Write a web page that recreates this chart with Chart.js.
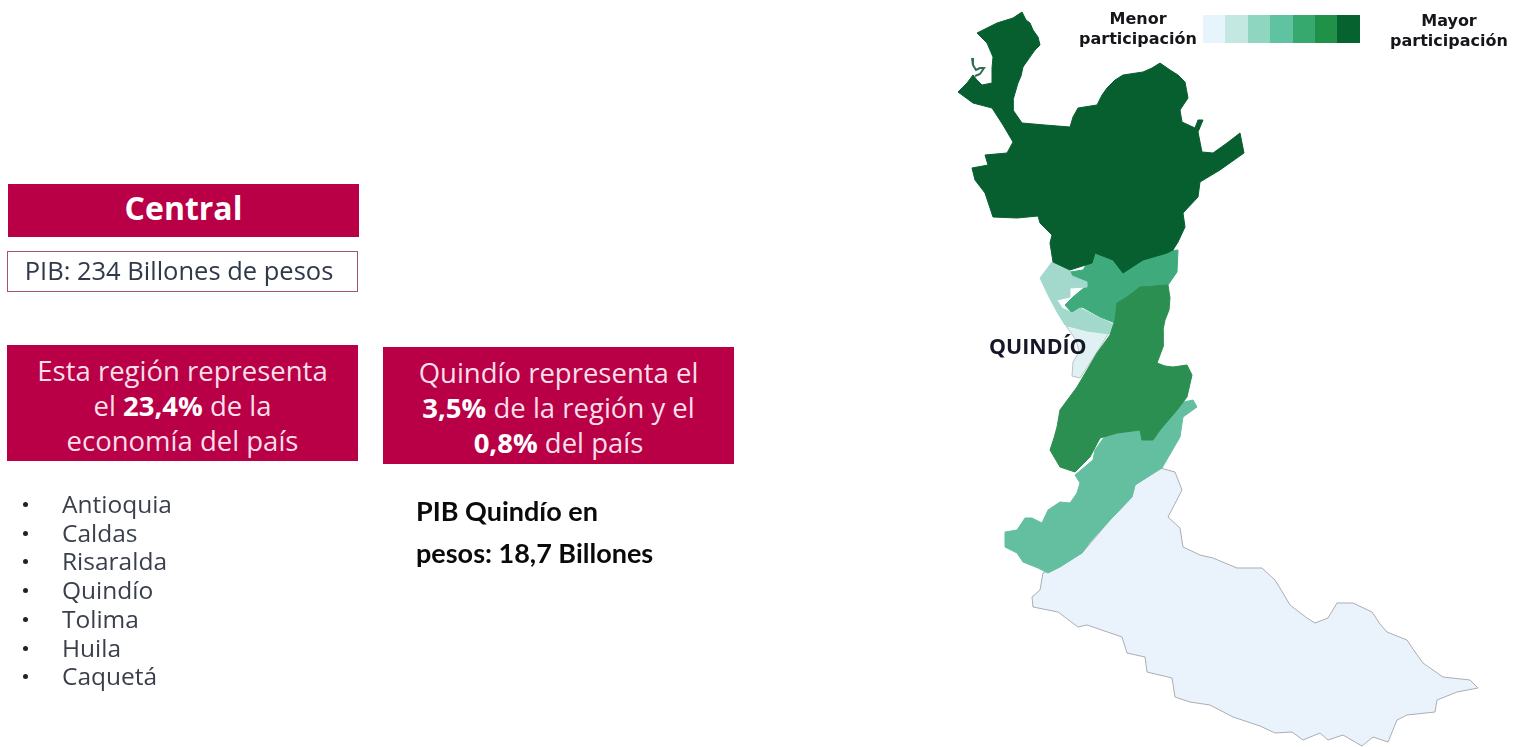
<!DOCTYPE html>
<html lang="es">
<head>
<meta charset="utf-8">
<title>Región Central</title>
<script src="https://cdn.jsdelivr.net/npm/chart.js@4"></script>
<style>
    html, body { margin: 0; padding: 0; background: #fff; }
    #page { position: relative; width: 1526px; height: 747px; overflow: hidden; font-family: "Open Sans", sans-serif; }
    #mapWrap { position: absolute; left: 0; top: 0; width: 1526px; height: 747px; }
    .box { position: absolute; box-sizing: border-box; text-align: center; }
    .panel { background: #b90046; color: #f9dfe8; font-size: 27.5px; line-height: 35px; padding-top: 8px; white-space: nowrap; }
    .panel b { color: #fff; }
    #title { left: 8px; top: 184px; width: 351px; height: 53px; background: #b90046; color: #fff; font-weight: 700; font-size: 32px; line-height: 47px; }
    #pib { left: 7px; top: 251px; width: 351px; height: 41px; padding-right: 7px; border: 1.5px solid #a5527a; color: #30384a; font-size: 25.5px; line-height: 36px; white-space: nowrap; }
    #regionPanel { left: 7px; top: 345px; width: 351px; height: 116px; }
    #quindioPanel { left: 383px; top: 347px; width: 351px; height: 117px; }
    #pibQuindio { position: absolute; left: 416px; top: 490px; font-family: Lato, sans-serif; font-weight: 700; font-size: 27px; line-height: 42px; color: #0a0a0a; white-space: nowrap; }
    #deptList { position: absolute; left: 0; top: 490px; margin: 0; padding: 0; list-style: none; font-size: 24.5px; line-height: 28.7px; color: #3a3f4c; }
    #deptList li { position: relative; padding-left: 62px; }
    #deptList li::before { content: ""; position: absolute; left: 23px; top: 12px; width: 5px; height: 5px; border-radius: 50%; background: #222; }
    #quindioLabel { position: absolute; left: 989px; top: 333px; font-weight: 700; font-size: 21.4px; line-height: 26px; color: #16182a; white-space: nowrap; }
    #legendBar { position: absolute; left: 1203px; top: 15px; display: flex; height: 28px; }
    #legendBar span { display: block; width: 22.4px; height: 28px; }
    .legendText { position: absolute; font-family: "DejaVu Sans", sans-serif; font-weight: 700; font-size: 16px; line-height: 20px; text-align: center; color: #15151a; }
</style>
</head>
<body>
<div id="page">
    <div id="mapWrap"><canvas id="mapChart"></canvas></div>
    <div class="box" id="title"></div>
    <div class="box" id="pib"></div>
    <div class="box panel" id="regionPanel">Esta región representa<br>el <b>23,4%</b> de la<br>economía del país</div>
    <div class="box panel" id="quindioPanel">Quindío representa el<br><b>3,5%</b> de la región y el<br><b>0,8%</b> del país</div>
    <ul id="deptList"></ul>
    <div id="pibQuindio">PIB Quindío en<br>pesos: 18,7 Billones</div>
    <div id="quindioLabel">QUINDÍO</div>
    <div class="legendText" style="left:1058px;top:9px;width:160px">Menor<br>participación</div>
    <div id="legendBar"></div>
    <div class="legendText" style="left:1369px;top:11px;width:160px">Mayor<br>participación</div>
</div>

<script>
const regionName = 'Central';
const regionPib = 'PIB: 234 Billones de pesos';
const departments = ['Antioquia', 'Caldas', 'Risaralda', 'Quindío', 'Tolima', 'Huila', 'Caquetá'];
const legendColors = ['#e8f4fb', '#c3e8e2', '#8fd6c0', '#5fc2a1', '#36a96e', '#1f9148', '#06632f'];

// Department outlines, [x, y] in picture units
const antioquia = [[1022,12],[1026,20],[1030,23],[1033,30],[1038,37],[1040,45],[1035,50],[1030,57],[1023,67],[1021,76],[1018,83],[1013,100],[1013,110],[1022,123],[1045,125],[1070,127],[1073,117],[1078,108],[1097,105],[1102,95],[1107,88],[1115,80],[1123,75],[1143,72],[1152,68],[1160,63],[1170,70],[1178,75],[1185,82],[1188,98],[1180,110],[1182,122],[1195,128],[1198,120],[1203,120],[1198,132],[1202,152],[1213,153],[1227,143],[1240,133],[1244,153],[1220,170],[1200,182],[1198,197],[1183,213],[1185,227],[1178,242],[1173,250],[1167,253],[1143,260],[1123,273],[1113,260],[1095,253],[1092,263],[1070,270],[1053,262],[1050,243],[1052,235],[1040,223],[1038,216],[1017,218],[993,217],[988,202],[985,193],[975,180],[972,168],[988,165],[985,155],[1007,153],[1013,142],[1003,125],[992,108],[973,103],[958,92],[967,83],[973,75],[977,80],[982,85],[992,83],[992,68],[993,57],[987,43],[977,33],[997,23],[1013,18]];
const antioquiaIslet = [[972,58],[973,65],[976,70],[980,68],[984,68],[980,74],[975,76]];
const caldas = [[1178,250],[1177,272],[1168,285],[1147,286],[1133,295],[1118,302],[1115,323],[1100,317],[1082,307],[1072,313],[1065,305],[1073,297],[1085,287],[1087,283],[1073,278],[1070,272],[1083,270],[1095,250],[1113,255],[1123,270],[1147,253]];
const risaralda = [[1052,262],[1040,278],[1048,295],[1057,312],[1065,325],[1087,331],[1110,334],[1115,325],[1100,318],[1080,308],[1072,313],[1062,308],[1057,300],[1070,297],[1070,288],[1087,287],[1087,282],[1072,276],[1068,268]];
const quindio = [[1066,326],[1110,331],[1097,352],[1080,378],[1072,376],[1073,362],[1079,352],[1076,340]];
const tolima = [[1168,285],[1170,298],[1169,310],[1165,320],[1163,330],[1163,347],[1157,363],[1165,366],[1173,367],[1187,365],[1192,375],[1187,397],[1177,410],[1160,430],[1153,440],[1142,440],[1140,430],[1117,433],[1100,438],[1090,457],[1075,472],[1060,467],[1050,450],[1054,438],[1057,427],[1060,410],[1077,387],[1097,353],[1110,335],[1115,320],[1117,303],[1127,297],[1140,287]];
const huila = [[1193,400],[1197,407],[1183,417],[1180,437],[1162,468],[1135,485],[1132,497],[1110,520],[1090,542],[1082,553],[1060,567],[1048,573],[1038,568],[1023,562],[1017,553],[1005,547],[1005,532],[1017,530],[1025,518],[1032,518],[1042,523],[1048,510],[1060,502],[1070,503],[1077,493],[1080,483],[1075,475],[1093,460],[1095,450],[1105,436],[1140,420],[1170,405]];
const caqueta = [[1160,468],[1175,472],[1182,490],[1168,517],[1180,528],[1183,547],[1200,555],[1213,558],[1237,568],[1262,568],[1275,580],[1283,593],[1290,605],[1307,618],[1315,623],[1328,618],[1337,603],[1353,603],[1372,612],[1380,624],[1387,632],[1407,640],[1415,652],[1423,663],[1443,677],[1470,680],[1478,688],[1457,692],[1437,700],[1435,712],[1407,715],[1397,720],[1388,742],[1373,737],[1362,746],[1343,735],[1328,740],[1320,733],[1303,740],[1292,732],[1275,733],[1260,726],[1233,717],[1210,705],[1190,702],[1175,697],[1172,678],[1147,672],[1145,657],[1127,653],[1122,637],[1087,625],[1078,627],[1058,612],[1033,607],[1032,597],[1040,590],[1043,573],[1082,553],[1110,520],[1132,497],[1135,485]];

document.addEventListener('DOMContentLoaded', function() {
    fillTexts();
    createMapChart();
});

/**
 * Text panels and legend swatches around the map
 */
function fillTexts() {
    document.getElementById('title').textContent = regionName;
    document.getElementById('pib').textContent = regionPib;

    const list = document.getElementById('deptList');
    departments.forEach(name => {
        const li = document.createElement('li');
        li.textContent = name;
        list.appendChild(li);
    });

    const bar = document.getElementById('legendBar');
    legendColors.forEach(color => {
        const swatch = document.createElement('span');
        swatch.style.background = color;
        bar.appendChild(swatch);
    });
}

/**
 * One closed shape of the map
 */
function shapeDataset(label, outline, color, lineColor) {
    const points = outline.concat([outline[0]]).map(p => ({ x: p[0], y: p[1] }));
    return {
        label: label,
        data: points,
        showLine: true,
        fill: 'shape',
        tension: 0,
        backgroundColor: color,
        borderColor: lineColor || color,
        borderWidth: 1,
        pointRadius: 0
    };
}

/**
 * Map drawn as filled scatter shapes, first dataset ends up on top
 */
function createMapChart() {
    const ctx = document.getElementById('mapChart');

    new Chart(ctx, {
        type: 'scatter',
        data: {
            datasets: [
                shapeDataset('Antioquia', antioquia, '#075f30'),
                {
                    label: 'Antioquia islet',
                    data: antioquiaIslet.map(p => ({ x: p[0], y: p[1] })),
                    showLine: true,
                    borderColor: '#2f6d50',
                    borderWidth: 2,
                    pointRadius: 0
                },
                shapeDataset('Tolima', tolima, '#2a8f50'),
                shapeDataset('Risaralda', risaralda, '#a3d9cd'),
                shapeDataset('Caldas', caldas, '#3fab7d'),
                shapeDataset('Quindío', quindio, '#dff1f3', '#b9c4c6'),
                shapeDataset('Huila', huila, '#63bf9f'),
                shapeDataset('Caquetá', caqueta, '#eaf3fb', '#a9aeb3')
            ]
        },
        options: {
            responsive: true,
            maintainAspectRatio: false,
            animation: false,
            events: [],
            layout: { padding: 0 },
            scales: {
                x: { type: 'linear', display: false, min: 0, max: 1526 },
                y: { type: 'linear', display: false, min: 0, max: 747, reverse: true }
            },
            plugins: {
                legend: { display: false },
                tooltip: { enabled: false }
            }
        }
    });
}
</script>
</body>
</html>
